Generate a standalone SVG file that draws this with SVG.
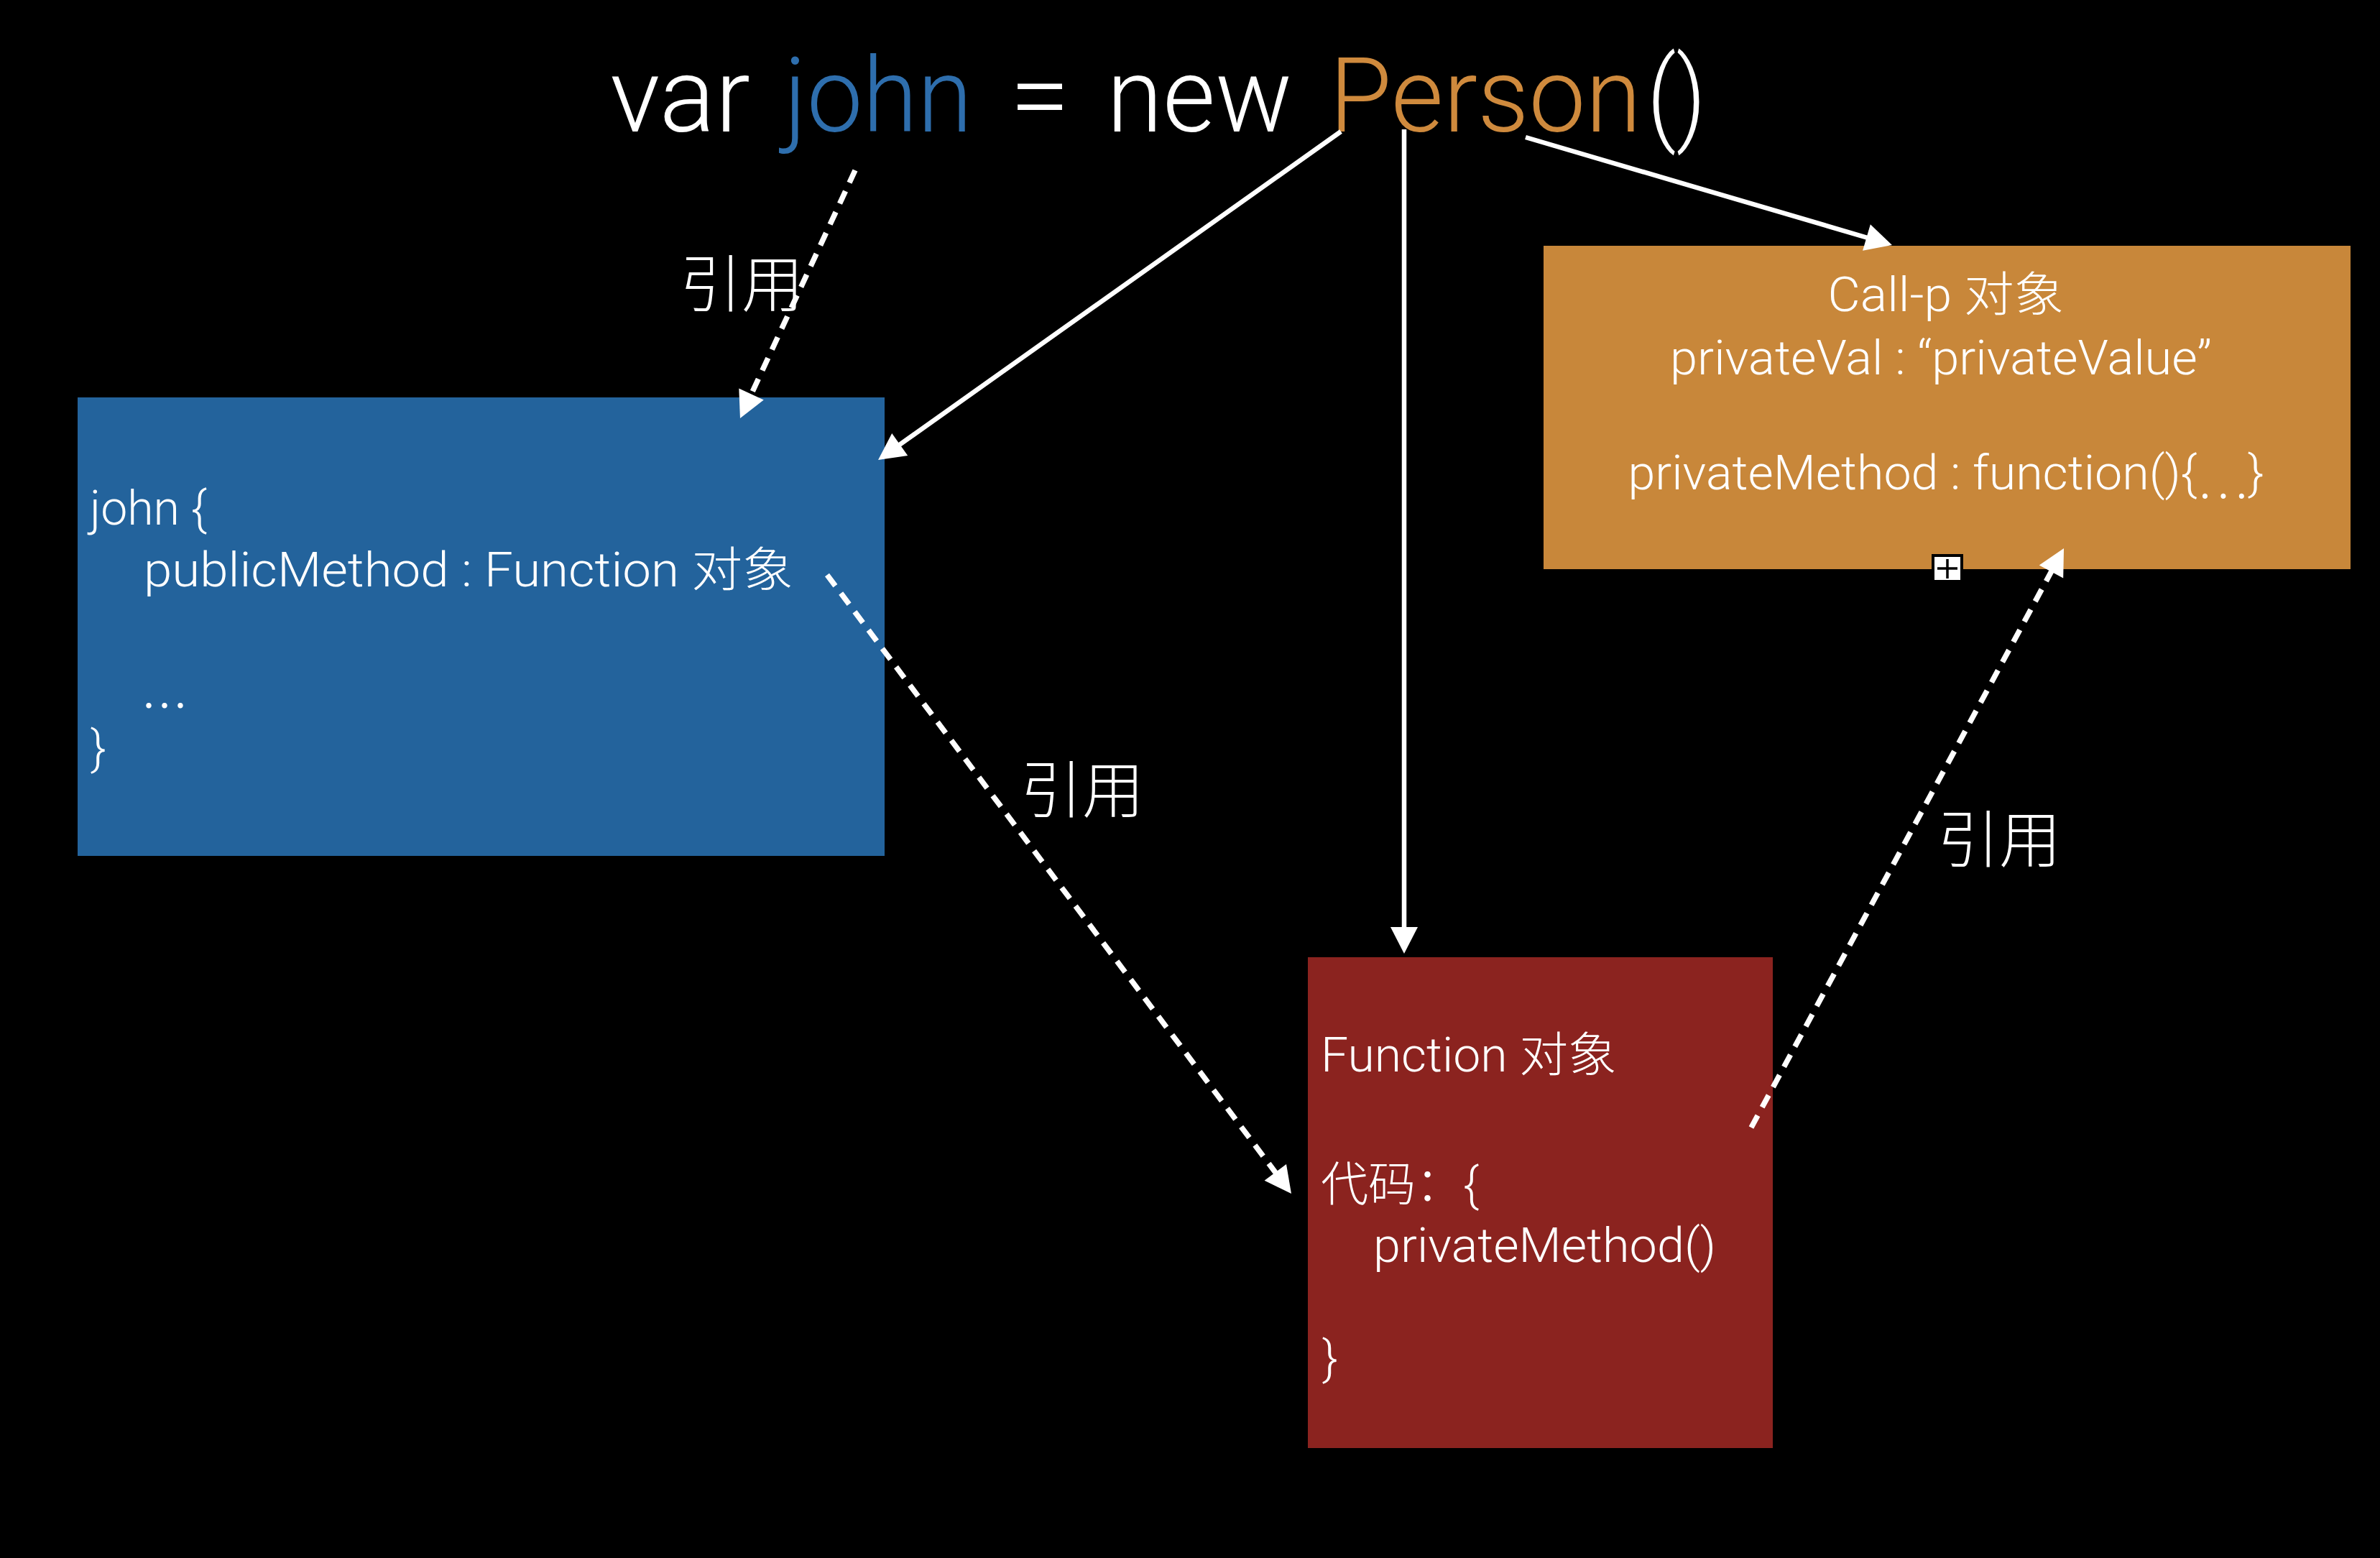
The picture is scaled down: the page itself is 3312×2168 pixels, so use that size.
<svg xmlns="http://www.w3.org/2000/svg" width="3312" height="2168" viewBox="0 0 3312 2168">
<defs>
<style>
.t{font-family:"Helvetica Neue",Roboto,"Liberation Sans","Noto Sans CJK SC",sans-serif;font-weight:300;fill:#ffffff}
.cj{font-family:"Noto Sans CJK SC","Noto Sans CJK JP",sans-serif}
.title{font-size:144px}
.box{font-size:66px}
.lbl{font-family:"Noto Sans CJK SC","Noto Sans CJK JP",sans-serif;font-weight:300;font-size:86px;fill:#ffffff;text-anchor:middle}
.solid{stroke:#ffffff;stroke-width:6.5;fill:none;marker-end:url(#ah)}
.dash{stroke:#ffffff;stroke-width:7.5;fill:none;stroke-dasharray:19 13;marker-end:url(#ah)}
</style>
<marker id="ah" markerUnits="userSpaceOnUse" markerWidth="40" markerHeight="40" refX="7" refY="19" orient="auto" overflow="visible">
<path d="M0,0 L37,19 L0,38 Z" fill="#ffffff"/>
</marker>
</defs>
<rect x="0" y="0" width="3312" height="2168" fill="#000000"/>

<g id="title">
<text class="t title" x="849" y="183" textLength="195" lengthAdjust="spacingAndGlyphs">var</text>
<text class="t title" x="1091" y="183" textLength="262" lengthAdjust="spacingAndGlyphs" style="fill:#2e6ead">john</text>
<text class="t title" x="1405" y="183" textLength="84" lengthAdjust="spacingAndGlyphs">=</text>
<text class="t title" x="1540" y="183" textLength="258" lengthAdjust="spacingAndGlyphs">new</text>
<text class="t title" x="1850" y="183" textLength="434" lengthAdjust="spacingAndGlyphs" style="fill:#cf8a3d">Person</text>
<text class="t title" x="2292" y="183" textLength="82" lengthAdjust="spacingAndGlyphs">()</text>
</g>

<g id="john">
<rect x="108" y="553" width="1123" height="638" fill="#23639c"/>
<text class="t box" x="125" y="730" textLength="163" lengthAdjust="spacingAndGlyphs">john {</text>
<text class="t box" x="200" y="816" textLength="904" lengthAdjust="spacingAndGlyphs">publicMethod : Function 对象</text>
<text class="t box cj" x="196" y="1007">…</text>
<text class="t box" x="126" y="1064">}</text>
</g>

<g id="callp">
<rect x="2148" y="342" width="1123" height="450" fill="#c8873a"/>
<text class="t box" x="2708" y="433" text-anchor="middle" textLength="329" lengthAdjust="spacingAndGlyphs">Call-p 对象</text>
<text class="t box" x="2701" y="521" text-anchor="middle" textLength="754" lengthAdjust="spacingAndGlyphs">privateVal : “privateValue”</text>
<text class="t box" x="2708" y="681" text-anchor="middle" textLength="885" lengthAdjust="spacingAndGlyphs">privateMethod : function(){<tspan class="cj" dy="12">…</tspan><tspan dy="-12">}</tspan></text>
<rect x="2690" y="773" width="40" height="36" fill="#ffffff" stroke="#000000" stroke-width="4"/>
<path d="M2696,791 H2724 M2710,778 V805" stroke="#000000" stroke-width="3.5" fill="none"/>
</g>

<g id="function">
<rect x="1820" y="1332" width="647" height="683" fill="#8b231f"/>
<text class="t box" x="1838" y="1491" textLength="412" lengthAdjust="spacingAndGlyphs">Function 对象</text>
<text class="t box" x="1838" y="1671" textLength="220" lengthAdjust="spacingAndGlyphs">代码：{</text>
<text class="t box" x="1911" y="1756" textLength="477" lengthAdjust="spacingAndGlyphs">privateMethod()</text>
<text class="t box" x="1840" y="1913">}</text>
</g>

<g id="connectors">
<line class="dash" x1="1190" y1="237" x2="1042.6" y2="554.8"/>
<line class="solid" x1="1866" y1="183" x2="1246.5" y2="622.6"/>
<line class="solid" x1="1954" y1="180" x2="1954" y2="1297"/>
<line class="solid" x1="2123" y1="191" x2="2604.2" y2="332.5"/>
<line class="dash" x1="1151" y1="800" x2="1779" y2="1637"/>
<line class="dash" x1="2437" y1="1569" x2="2857.8" y2="789.4"/>
<text class="lbl" x="1032" y="427">引用</text>
<text class="lbl" x="1506" y="1131">引用</text>
<text class="lbl" x="2782" y="1200">引用</text>
</g>
</svg>
